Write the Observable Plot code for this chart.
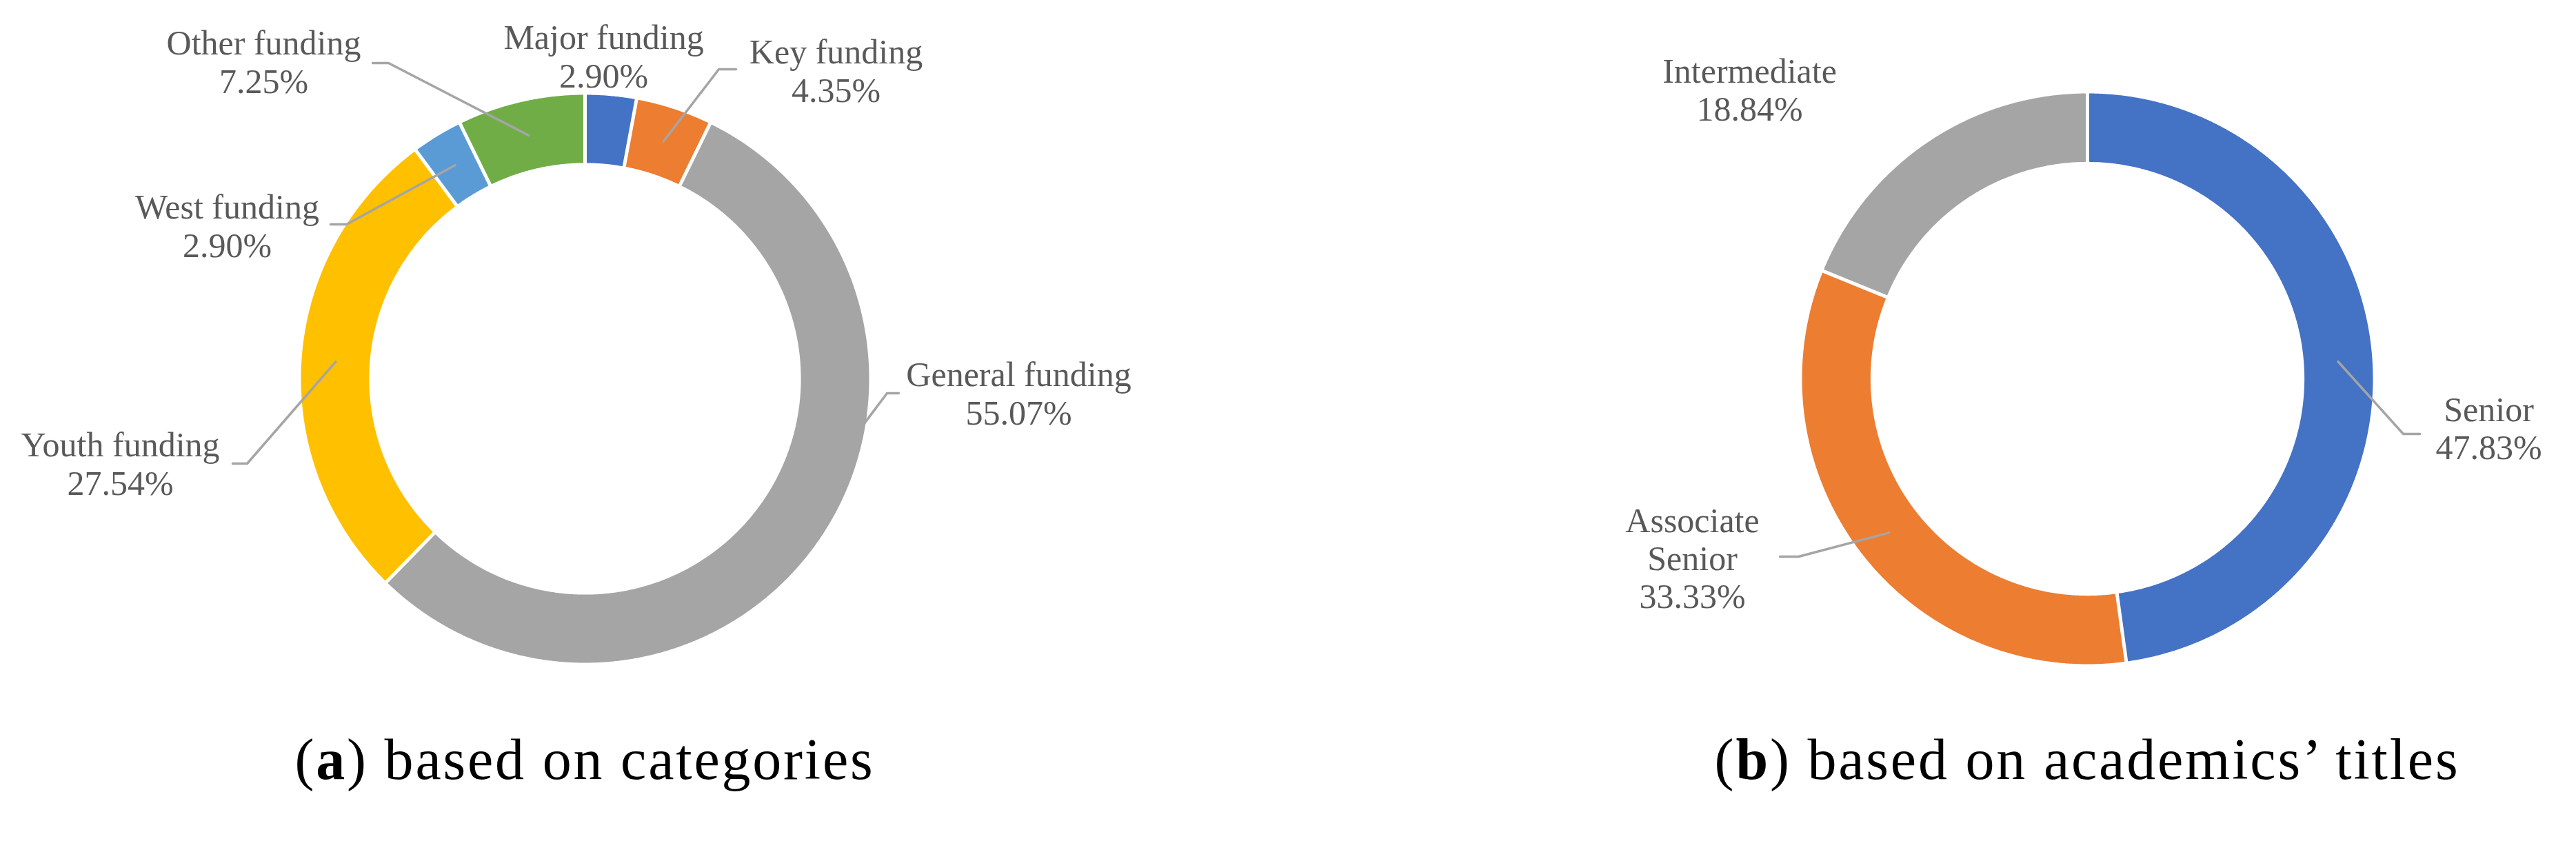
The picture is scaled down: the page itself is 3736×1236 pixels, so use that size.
<!DOCTYPE html>
<html>
<head>
<meta charset="utf-8">
<script src="https://cdn.jsdelivr.net/npm/d3@7"></script>
<script src="https://cdn.jsdelivr.net/npm/@observablehq/plot@0.6"></script>
<style>
  html, body { margin: 0; padding: 0; background: #ffffff; }
  #wrap { position: relative; width: 3736px; height: 1236px; overflow: hidden; }
  .panel { position: absolute; top: 0; }
  .cap {
    position: absolute;
    font-family: "Liberation Serif", "Times New Roman", serif;
    font-size: 84px;
    line-height: 84px;
    letter-spacing: 2.8px;
    color: #000000;
    white-space: nowrap;
    transform: translateX(-50%);
  }
  .cap b { font-weight: bold; }
</style>
</head>
<body>
<div id="wrap"></div>
<script>
// ---------------- data ----------------
const categoriesA = ["Major funding", "Key funding", "General funding", "Youth funding", "West funding", "Other funding"];
const valuesA = [2.90, 4.35, 55.07, 27.54, 2.90, 7.25];

const categoriesB = ["Senior", "Associate Senior", "Intermediate"];
const valuesB = [47.83, 33.33, 18.84];

const captionLetters = ["a", "b"];
const captionTexts = ["based on categories", "based on academics\u2019 titles"];

// ---------------- styles / layout ----------------
const paletteA = ["#4472C4", "#ED7D31", "#A5A5A5", "#FFC000", "#5B9BD5", "#70AD47"];
const paletteB = ["#4472C4", "#ED7D31", "#A5A5A5"];

const PANEL_W = 1868, SVG_H = 1040;

// label placement: offsets (px) from donut centre; ex/bx = leader end & elbow x, ey = leader y
const labelLayoutA = [
  {lx: 27,   ly: -468},
  {lx: 364,  ly: -447, ex: 219,  bx: 194,  ey: -449},
  {lx: 629,  ly: 21,   ex: 455,  bx: 438,  ey: 21},
  {lx: -674, ly: 123,  ex: -511, bx: -490, ey: 123},
  {lx: -519, ly: -222, ex: -369, bx: -346, ey: -224},
  {lx: -466, ly: -460, ex: -308, bx: -285, ey: -458}
];
const labelLayoutB = [
  {lx: 582,  ly: 71,   ex: 482,  bx: 458,  ey: 80},
  {lx: -573, ly: 260,  ex: -446, bx: -419, ey: 258},
  {lx: -490, ly: -420}
];

const panels = [
  {cats: categoriesA, vals: valuesA, palette: paletteA, layout: labelLayoutA, wrap: 20,
   left: 0, cx: 848, cy: 549, R: 412, hole: 0.76, fontSize: 50, lineHeight: 56},
  {cats: categoriesB, vals: valuesB, palette: paletteB, layout: labelLayoutB, wrap: 6,
   left: 1868, cx: 1159, cy: 549, R: 414, hole: 0.76, fontSize: 50, lineHeight: 55}
];

function buildDonut(p) {
  const {cats, vals, palette, layout, cx, cy, R, hole} = p;
  const pie = d3.pie().sort(null).value(d => d.value).startAngle(0).endAngle(2 * Math.PI);
  const rows = cats.map((c, i) => ({name: c, value: vals[i], color: palette[i], lay: layout[i]}));
  const arcs = pie(rows);

  const marks = [];
  const step = Math.PI / 720;
  // slices as closed polygons (outer arc then inner arc), in units of outer radius
  arcs.forEach(a => {
    const pts = [];
    const n = Math.max(2, Math.ceil((a.endAngle - a.startAngle) / step));
    for (let k = 0; k <= n; k++) {
      const t = a.startAngle + (a.endAngle - a.startAngle) * k / n;
      pts.push({x: Math.sin(t), y: Math.cos(t)});
    }
    for (let k = n; k >= 0; k--) {
      const t = a.startAngle + (a.endAngle - a.startAngle) * k / n;
      pts.push({x: hole * Math.sin(t), y: hole * Math.cos(t)});
    }
    marks.push(Plot.line(pts, {x: "x", y: "y", fill: a.data.color, stroke: "none", curve: "linear-closed"}));
  });

  // white separators between slices
  marks.push(Plot.link(arcs, {
    x1: a => (hole - 0.02) * Math.sin(a.startAngle),
    y1: a => (hole - 0.02) * Math.cos(a.startAngle),
    x2: a => 1.02 * Math.sin(a.startAngle),
    y2: a => 1.02 * Math.cos(a.startAngle),
    stroke: "#ffffff", strokeWidth: 5
  }));

  // leader lines: label side -> elbow -> middle of slice
  const rm = (1 + hole) / 2;
  const leaders = [];
  arcs.forEach((a, i) => {
    const L = a.data.lay;
    if (L.ex === undefined) return;
    const mid = (a.startAngle + a.endAngle) / 2;
    leaders.push({id: i, x: L.ex / R, y: -L.ey / R});
    leaders.push({id: i, x: L.bx / R, y: -L.ey / R});
    leaders.push({id: i, x: rm * Math.sin(mid), y: rm * Math.cos(mid)});
  });
  marks.push(Plot.line(leaders, {x: "x", y: "y", z: "id", stroke: "#A5A5A5", strokeWidth: 3.5}));

  // labels
  marks.push(Plot.text(arcs, {
    x: a => a.data.lay.lx / R,
    y: a => -a.data.lay.ly / R,
    text: a => `${a.data.name}\n${a.data.value.toFixed(2)}%`,
    lineWidth: p.wrap,
    lineHeight: p.lineHeight / p.fontSize,
    fontSize: p.fontSize,
    fontFamily: "Liberation Serif, Times New Roman, serif",
    fill: "#595959",
    textAnchor: "middle"
  }));

  return Plot.plot({
    width: PANEL_W,
    height: SVG_H,
    margin: 0,
    x: {domain: [-cx / R, (PANEL_W - cx) / R], axis: null},
    y: {domain: [(cy - SVG_H) / R, cy / R], axis: null},
    style: {background: "transparent", overflow: "visible"},
    marks
  });
}

const wrap = document.getElementById("wrap");
panels.forEach((p, i) => {
  const svg = buildDonut(p);
  const holder = document.createElement("div");
  holder.className = "panel";
  holder.style.left = p.left + "px";
  holder.appendChild(svg);
  wrap.appendChild(holder);

  const cap = document.createElement("div");
  cap.className = "cap";
  cap.style.left = (p.left + p.cx) + "px";
  cap.style.top = (1130 - 70) + "px";
  cap.innerHTML = `(<b>${captionLetters[i]}</b>) ${captionTexts[i]}`;
  wrap.appendChild(cap);
});
</script>
</body>
</html>
